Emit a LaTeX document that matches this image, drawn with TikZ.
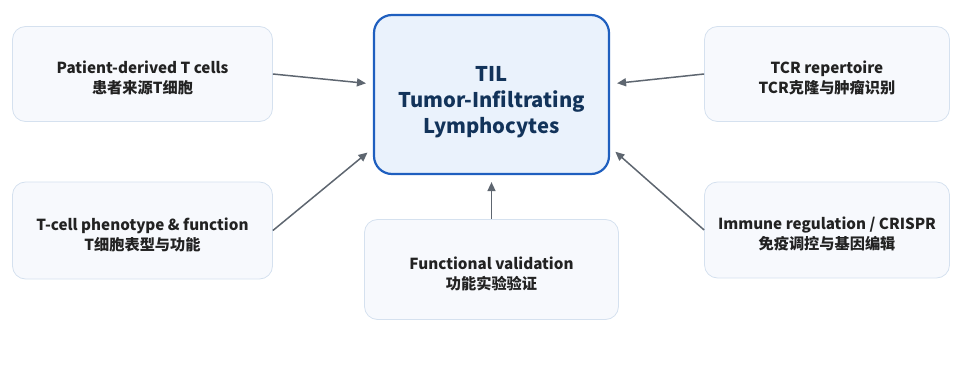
\documentclass[tikz,border=0pt]{standalone}
\usepackage{fontspec}
\setmainfont{Noto Sans CJK SC}
\usepackage{xcolor}
\usepackage{tikz}
\usetikzlibrary{arrows.meta,positioning}

\definecolor{tilblue}{HTML}{1F5FBF}
\definecolor{tilfill}{HTML}{EAF2FC}
\definecolor{tilnavy}{HTML}{12335A}
\definecolor{sidefill}{HTML}{F7F9FD}
\definecolor{sideline}{HTML}{D5E1EF}
\definecolor{arrgray}{HTML}{5E6670}
\definecolor{sidetext}{HTML}{222222}
% push the first line down a little
\newcommand{\sidegap}{\rule{0pt}{21pt}}
\newcommand{\coregap}{\rule{0pt}{31pt}}

\begin{document}
\begin{tikzpicture}[
  core/.style={rectangle,rounded corners=18pt,draw=tilblue,line width=2.2pt,fill=tilfill,align=center,
    minimum width=235pt,minimum height=159pt,text=tilnavy,font=\bfseries\fontsize{20.2}{26}\selectfont},
  box/.style={rectangle,rounded corners=13pt,draw=sideline,line width=0.8pt,fill=sidefill,align=center,
    minimum width=260pt,minimum height=95pt,text=sidetext,font=\bfseries\fontsize{15.2}{20}\selectfont},
  arr/.style={-{Triangle[length=9pt,width=8pt]},line width=1.5pt,draw=arrgray,shorten >=7pt}
]
\useasboundingbox (0pt,0pt) rectangle (958pt,-382pt);
\node[core] (til) at (491.5pt,-94.5pt) {\coregap TIL\\Tumor-Infiltrating\\Lymphocytes};
\node[box,left=100pt of til,yshift=20.5pt] (patient) {\sidegap Patient-derived T cells\\患者来源T细胞};
\node[box,left=100pt of til,yshift=-136pt,minimum height=97pt] (pheno) {\sidegap T-cell phenotype \& function\\T细胞表型与功能};
\node[box,below=44pt of til,minimum width=254pt,minimum height=100pt] (valid) {\sidegap Functional validation\\功能实验验证};
\node[box,right=94pt of til,yshift=20.5pt,minimum width=245pt] (tcr) {\sidegap TCR repertoire\\TCR克隆与肿瘤识别};
\node[box,right=94pt of til,yshift=-135.5pt,minimum width=245pt,minimum height=96pt] (immune) {\sidegap Immune regulation / CRISPR\\免疫调控与基因编辑};
\draw[arr] (patient.east) -- ([yshift=10.5pt]til.west);
\draw[arr] (pheno.east) -- ([yshift=27pt]til.south west);
\draw[arr] (valid.north) -- (til.south);
\draw[arr] (tcr.west) -- ([yshift=10.5pt]til.east);
\draw[arr] (immune.west) -- ([yshift=28pt]til.south east);
\end{tikzpicture}
\end{document}
